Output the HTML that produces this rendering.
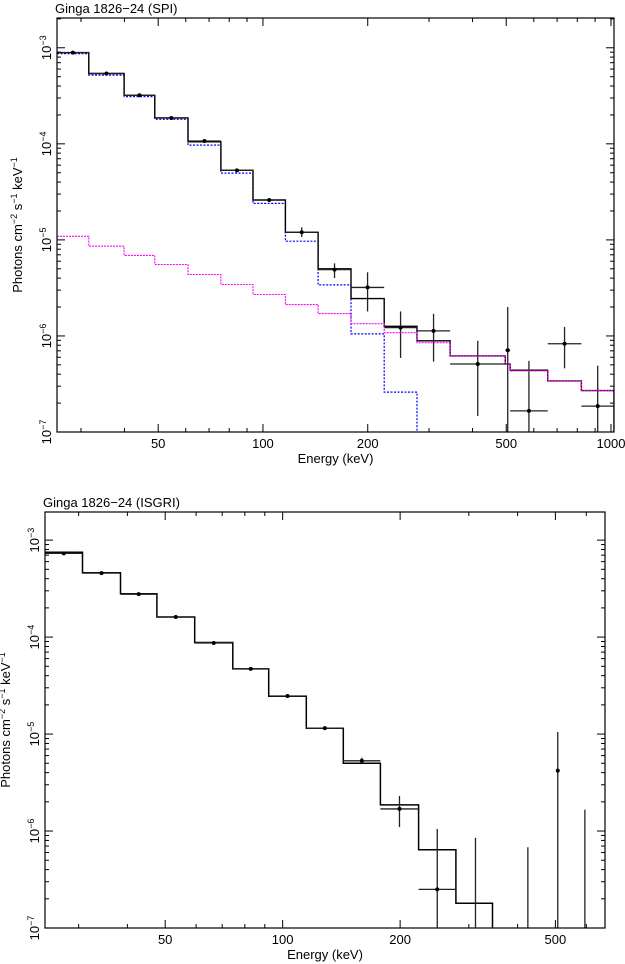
<!DOCTYPE html>
<html><head><meta charset="utf-8"><style>
html,body{margin:0;padding:0;background:#fff;}
svg{display:block;font-family:"Liberation Sans",sans-serif;}
</style></head><body>
<svg id="svg" width="625" height="964" viewBox="0 0 625 964" xmlns="http://www.w3.org/2000/svg"></svg>
<script>
// ---------- SPI panel data ----------
const spiEdges = [25.6,31.6,39.9,48.9,60.9,75.7,93.6,116,144,179,223,277,345,497,513,658,822,1020];
const spiData = [8.9e-4,5.4e-4,3.2e-4,1.86e-4,1.07e-4,5.3e-5,2.6e-5,1.2e-5,4.9e-6,3.2e-6,1.22e-6,1.13e-6,5.1e-7,7.1e-7,1.66e-7,8.3e-7,1.86e-7];
const spiErrHi = [9.2e-4,5.6e-4,3.3e-4,1.92e-4,1.1e-4,5.5e-5,2.7e-5,1.35e-5,5.7e-6,4.6e-6,1.8e-6,1.7e-6,8.9e-7,2.0e-6,5.5e-7,1.24e-6,4.9e-7];
const spiErrLo = [8.6e-4,5.2e-4,3.1e-4,1.8e-4,1.04e-4,5.1e-5,2.5e-5,1.07e-5,4.0e-6,1.8e-6,5.9e-7,5.4e-7,1.47e-7,1e-8,1e-8,4.6e-7,1e-8];
const spiTotal = [8.9e-4,5.4e-4,3.2e-4,1.86e-4,1.05e-4,5.3e-5,2.6e-5,1.2e-5,5.0e-6,2.45e-6,1.26e-6,8.9e-7,6.2e-7,5.1e-7,4.4e-7,3.4e-7,2.7e-7];
const spiComp1 = [8.7e-4,5.2e-4,3.1e-4,1.8e-4,9.7e-5,4.96e-5,2.4e-5,9.7e-6,3.4e-6,1.05e-6,2.6e-7,1e-8];
const spiComp2 = [1.09e-5,8.6e-6,6.9e-6,5.55e-6,4.36e-6,3.43e-6,2.7e-6,2.12e-6,1.71e-6,1.34e-6,1.08e-6,8.5e-7,6.2e-7,5.1e-7,4.33e-7,3.4e-7,2.7e-7];
// ---------- ISGRI panel data ----------
const isgEdges = [24.6,30.7,38.4,47.6,59.5,74.5,92.1,115,143,178,223,278,345];
const isgData = [7.3e-4,4.57e-4,2.77e-4,1.61e-4,8.7e-5,4.7e-5,2.47e-5,1.15e-5,5.3e-6,1.69e-6,2.5e-7];
const isgErrHi = [7.5e-4,4.7e-4,2.85e-4,1.65e-4,9.0e-5,4.85e-5,2.55e-5,1.2e-5,5.7e-6,2.3e-6,1.05e-6];
const isgErrLo = [7.1e-4,4.45e-4,2.7e-4,1.57e-4,8.4e-5,4.55e-5,2.4e-5,1.1e-5,4.9e-6,1.1e-6,1e-8];
const isgModel = [7.5e-4,4.6e-4,2.8e-4,1.61e-4,8.8e-5,4.7e-5,2.45e-5,1.15e-5,5.0e-6,1.86e-6,6.4e-7,1.8e-7];
const isgUlE = [312,425,595];
const isgUlTop = [8.5e-7,6.8e-7,1.66e-6];
const isgExtraE = [507];
const isgExtraV = [4.2e-6];
const isgExtraHi = [1.05e-5];
const xTickVals = [50,100,200,500,1000];
const xTickLabels = ["50","100","200","500","1000"];
const yExps = [-3,-4,-5,-6,-7];

const NS="http://www.w3.org/2000/svg";
const svg=document.getElementById('svg');
function mk(tag,attrs,parent){const e=document.createElementNS(NS,tag);for(const k in attrs)e.setAttribute(k,attrs[k]);(parent||svg).appendChild(e);return e;}

function panel(P){
  const g=mk('g',{});
  
  
  const X=e=>P.x0+(Math.log10(e)-Math.log10(P.emin))/(Math.log10(P.emax)-Math.log10(P.emin))*(P.x1-P.x0);
  const Y=v=>P.y1-(Math.log10(v)-Math.log10(P.vmin))/(Math.log10(P.vmax)-Math.log10(P.vmin))*(P.y1-P.y0);
  const clipId='c'+P.name;
  const cp=mk('clipPath',{id:clipId},g);mk('rect',{x:P.x0,y:P.y0,width:P.x1-P.x0,height:P.y1-P.y0},cp);
  const plot=mk('g',{'clip-path':'url(#'+clipId+')'},g);
  function step(edges,vals,style,name){
    let d='';
    for(let i=0;i<vals.length;i++){
      const xa=X(edges[i]),xb=X(edges[i+1]),y=Math.min(Y(vals[i]),P.y1+5);
      d+=(i===0?'M':'L')+xa.toFixed(1)+','+y.toFixed(1)+'L'+xb.toFixed(1)+','+y.toFixed(1);
    }
    const last=vals.length;
    if(last<edges.length) d+='L'+X(edges[last]).toFixed(1)+','+(P.y1+5);
    const p=mk('path',Object.assign({d:d,fill:'none'},style),plot);
    
    
  }
  P.steps.forEach(s=>step(s.edges,s.vals,s.style,s.name));
  P.data.forEach(D=>{
    for(let i=0;i<D.vals.length;i++){
      const xa=X(D.edges[i]),xb=X(D.edges[i+1]);
      const xc=X(Math.sqrt(D.edges[i]*D.edges[i+1]));
      const y=Y(D.vals[i]);
      const gg=mk('g',{stroke:'#222','stroke-width':1.3},plot);
      
      
      mk('line',{x1:xa,x2:xb,y1:y,y2:y},gg);
      mk('line',{x1:xc,x2:xc,y1:Y(D.hi[i]),y2:Math.min(Y(D.lo[i]),P.y1+3)},gg);
      mk('circle',{cx:xc,cy:y,r:2,fill:'#000',stroke:'none'},gg);
    }
  });
  (P.post||[]).forEach(s=>step(s.edges,s.vals,s.style,s.name));
  (P.extra||[]).forEach(f=>f(X,Y,plot));
  mk('rect',{x:P.x0,y:P.y0,width:P.x1-P.x0,height:P.y1-P.y0,fill:'none',stroke:'#000','stroke-width':1.2},g);
  for(let dec=10;dec<=1000;dec*=10)for(let m=1;m<10;m++){
    const e=dec*m; if(e<P.emin||e>P.emax)continue;
    const x=X(e); const major=(m===1||m===5)||(dec===100&&m===2);
    const L=major?8:4;
    mk('line',{x1:x,x2:x,y1:P.y1,y2:P.y1-L,stroke:'#000','stroke-width':1},g);
    mk('line',{x1:x,x2:x,y1:P.y0,y2:P.y0+L,stroke:'#000','stroke-width':1},g);
  }
  xTickVals.forEach((v,i)=>{ if(v<P.emin||v>P.emax)return;
    const t=mk('text',{x:X(v),y:P.y1+16,'text-anchor':'middle','font-size':13},g);t.textContent=xTickLabels[i];
    });
  for(let ex=-8;ex<=-2;ex++)for(let m=1;m<10;m++){
    const v=m*Math.pow(10,ex); if(v<P.vmin*0.999||v>P.vmax)continue;
    const y=Y(v), L=m===1?8:4;
    mk('line',{x1:P.x0,x2:P.x0+L,y1:y,y2:y,stroke:'#000','stroke-width':1},g);
    mk('line',{x1:P.x1,x2:P.x1-L,y1:y,y2:y,stroke:'#000','stroke-width':1},g);
  }
  yExps.forEach(ex=>{const y=Y(Math.pow(10,ex));
    const t=mk('text',{transform:`translate(${P.x0-6},${y}) rotate(-90)`,'text-anchor':'middle','font-size':13},g);
    t.innerHTML='10<tspan dy="-5" font-size="9">−'+(-ex)+'</tspan>';
    });
  const title=mk('text',{x:P.x0-2,y:P.y0-5,'font-size':13},g);title.textContent=P.title;
  
  const xl=mk('text',{x:(P.x0+P.x1)/2,y:P.y1+31,'text-anchor':'middle','font-size':13},g);xl.textContent='Energy (keV)';
  
  const yl=mk('text',{transform:`translate(${P.ylx},${(P.y0+P.y1)/2}) rotate(-90)`,'text-anchor':'middle','font-size':13},g);
  yl.innerHTML='Photons cm<tspan dy="-5" font-size="9">−2</tspan><tspan dy="5"> s</tspan><tspan dy="-5" font-size="9">−1</tspan><tspan dy="5"> keV</tspan><tspan dy="-5" font-size="9">−1</tspan>';
  
}

panel({name:'spi-panel',title:'Ginga 1826−24 (SPI)',x0:57,x1:614,y0:18,y1:432,emin:25.6,emax:1020,vmin:1e-7,vmax:Math.pow(10,-2.69),ylx:22,
  steps:[
    {edges:spiEdges,vals:spiComp1,style:{stroke:'#0000ff','stroke-width':1.2,'stroke-dasharray':'2,1.5'},name:'component-1-model'},
    {edges:spiEdges,vals:spiTotal,style:{stroke:'#000','stroke-width':1.4},name:'total-model'}
  ],
  post:[
    {edges:spiEdges,vals:spiComp2,style:{stroke:'#ff00ff','stroke-width':1.1,'stroke-dasharray':'2,1'},name:'component-2-model'}
  ],
  data:[{edges:spiEdges,vals:spiData,hi:spiErrHi,lo:spiErrLo}]
});

panel({name:'isgri-panel',title:'Ginga 1826−24 (ISGRI)',x0:45,x1:605,y0:512,y1:928,emin:24.6,emax:670,vmin:1e-7,vmax:Math.pow(10,-2.71),ylx:10,
  steps:[{edges:isgEdges,vals:isgModel,style:{stroke:'#000','stroke-width':1.5},name:'total-model'}],
  data:[{edges:isgEdges,vals:isgData,hi:isgErrHi,lo:isgErrLo}],
  extra:[(X,Y,plot)=>{
    isgUlE.forEach((e,i)=>{const l=mk('line',{x1:X(e),x2:X(e),y1:Y(isgUlTop[i]),y2:930,stroke:'#222','stroke-width':1.3},plot);
      });
    isgExtraE.forEach((e,i)=>{const gg=mk('g',{stroke:'#222','stroke-width':1.3},plot);
      
      mk('line',{x1:X(e),x2:X(e),y1:Y(isgExtraHi[i]),y2:930},gg);
      mk('circle',{cx:X(e),cy:Y(isgExtraV[i]),r:2,fill:'#000',stroke:'none'},gg);});
  }]
});
</script>
</body></html>
